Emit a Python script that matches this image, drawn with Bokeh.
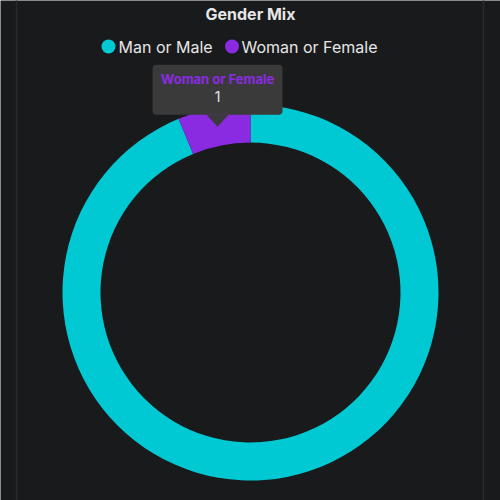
import math
from bokeh.plotting import figure
from bokeh.models import Range1d
from bokeh.core.properties import value
from bokeh.embed import file_html
from bokeh.resources import INLINE

# ---- data ----
title = "Gender Mix"
categories = ["Man or Male", "Woman or Female"]
counts = [15, 1]
colors = ["#00c9d3", "#8a2be2"]
tooltip_index = 1

# ---- layout ----
W, H = 500, 500
BG = "#191a1c"
FONT = "Inter"
cx, cy = 250, 292
r_in, r_out = 150, 188


def Y(v):
    return H - v


p = figure(width=W, height=H, x_range=Range1d(0, W), y_range=Range1d(0, H),
           output_backend="svg", toolbar_location=None, min_border=0)
p.background_fill_color = BG
p.border_fill_color = BG
p.outline_line_color = None
p.axis.visible = False
p.grid.visible = False

# card edges
p.segment(x0=[16, 483], y0=[-5, -5], x1=[16, 483], y1=[H + 5, H + 5],
          line_color="#2a2b2e", line_width=1.5)

# donut
total = sum(counts)
starts, ends = [], []
a = math.pi / 2
for c in counts:
    starts.append(a)
    a = a - 2 * math.pi * c / total
    ends.append(a)

p.annular_wedge(x=[cx] * len(counts), y=[Y(cy)] * len(counts),
                inner_radius=r_in, outer_radius=r_out,
                start_angle=starts, end_angle=ends, direction="clock",
                fill_color=colors, line_color=None)

# title
p.text(x=[250], y=[Y(13)], text=[title], text_font=value(FONT),
       text_font_style="bold", text_font_size="16px", text_color="#e6e6e6",
       text_align="center", text_baseline="middle")

# legend
leg_cx = [108, 231.5]
leg_tx = [118, 241]
p.scatter(x=leg_cx, y=[Y(46)] * 2, size=14, marker="circle",
          fill_color=colors, line_color=None)
p.text(x=leg_tx, y=[Y(46)] * 2, text=categories, text_font=value(FONT),
       text_font_size="16px", text_color="#e6e6e6",
       text_align="left", text_baseline="middle")

# tooltip (static)
i = tooltip_index
mid = (starts[i] + ends[i]) / 2
rm = (r_in + r_out) / 2
tx = cx + rm * math.cos(mid)
ty = cy - rm * math.sin(mid)
bw, bh, tip = 130, 50, 12
btop = ty - tip - bh
bbot = ty - tip
p.quad(left=[tx - bw / 2], right=[tx + bw / 2], top=[Y(btop)], bottom=[Y(bbot)],
       fill_color="#3a3a3b", line_color=None, border_radius=4)
p.patch(x=[tx - 11, tx + 11, tx], y=[Y(bbot), Y(bbot), Y(ty)],
        fill_color="#3a3a3b", line_color=None)
p.text(x=[tx], y=[Y(btop + 14)], text=[categories[i]], text_font=value(FONT),
       text_font_style="bold", text_font_size="13px", text_color=colors[i],
       text_align="center", text_baseline="middle")
p.text(x=[tx], y=[Y(btop + 32)], text=[str(counts[i])], text_font=value(FONT),
       text_font_size="14px", text_color="#e6e6e6",
       text_align="center", text_baseline="middle")

open("out.html", "w").write(file_html(p, INLINE))
